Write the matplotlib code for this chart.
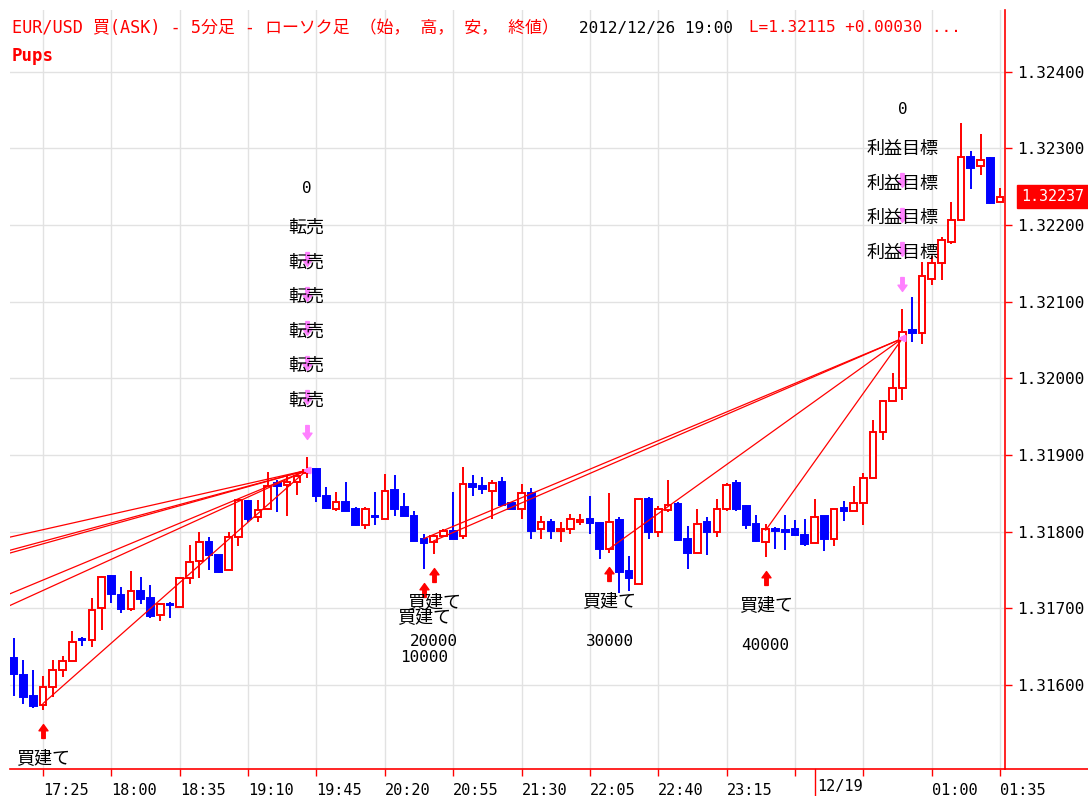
import matplotlib
matplotlib.use('Agg')
import matplotlib.pyplot as plt
import matplotlib.dates as mdates
import matplotlib.transforms as mtransforms
from matplotlib.patches import Rectangle
from matplotlib.lines import Line2D
from matplotlib.path import Path
import pandas as pd

plt.rcParams['font.family'] = ['DejaVu Sans Mono', 'Noto Sans CJK JP']
plt.rcParams['font.size'] = 11.5

RED = '#ff0000'
BLUE = '#0000ff'
PINK = '#ff80ff'
GRID = '#e2e2e2'

# --- データ (EUR/USD 5分足, 2012/12/18 17:10 から) ---
START = '2012-12-18 17:10'
opens = [1.31635, 1.31613, 1.31586, 1.31574, 1.31598, 1.31620, 1.31632, 1.31660, 1.31659, 1.31700,
         1.31742, 1.31717, 1.31699, 1.31723, 1.31713, 1.31691, 1.31706, 1.31702, 1.31740, 1.31762,
         1.31787, 1.31770, 1.31750, 1.31793, 1.31840, 1.31819, 1.31830, 1.31863, 1.31861, 1.31865,
         1.31876, 1.31882, 1.31847, 1.31830, 1.31839, 1.31830, 1.31809, 1.31821, 1.31817, 1.31855,
         1.31832, 1.31821, 1.31791, 1.31786, 1.31795, 1.31801, 1.31794, 1.31862, 1.31859, 1.31853,
         1.31865, 1.31837, 1.31830, 1.31851, 1.31803, 1.31813, 1.31801, 1.31803, 1.31813, 1.31816,
         1.31811, 1.31778, 1.31815, 1.31749, 1.31732, 1.31842, 1.31800, 1.31828, 1.31836, 1.31790,
         1.31772, 1.31813, 1.31800, 1.31829, 1.31864, 1.31833, 1.31810, 1.31787, 1.31804, 1.31802,
         1.31803, 1.31796, 1.31785, 1.31820, 1.31791, 1.31831, 1.31827, 1.31838, 1.31870, 1.31930,
         1.31971, 1.31988, 1.32063, 1.32059, 1.32130, 1.32150, 1.32178, 1.32207, 1.32289, 1.32277,
         1.32287, 1.32230]
highs = [1.31662, 1.31633, 1.31620, 1.31612, 1.31633, 1.31638, 1.31671, 1.31663, 1.31713, 1.31742,
         1.31743, 1.31728, 1.31749, 1.31741, 1.31730, 1.31707, 1.31708, 1.31741, 1.31783, 1.31800,
         1.31793, 1.31770, 1.31800, 1.31842, 1.31841, 1.31841, 1.31878, 1.31867, 1.31872, 1.31878,
         1.31898, 1.31882, 1.31858, 1.31852, 1.31865, 1.31832, 1.31832, 1.31852, 1.31875, 1.31874,
         1.31851, 1.31827, 1.31797, 1.31796, 1.31803, 1.31852, 1.31884, 1.31874, 1.31871, 1.31867,
         1.31871, 1.31838, 1.31862, 1.31857, 1.31821, 1.31817, 1.31812, 1.31823, 1.31823, 1.31846,
         1.31811, 1.31851, 1.31819, 1.31768, 1.31843, 1.31845, 1.31833, 1.31867, 1.31839, 1.31807,
         1.31829, 1.31819, 1.31842, 1.31864, 1.31867, 1.31835, 1.31822, 1.31810, 1.31806, 1.31822,
         1.31815, 1.31817, 1.31842, 1.31820, 1.31830, 1.31840, 1.31860, 1.31876, 1.31946, 1.31972,
         1.32007, 1.32091, 1.32106, 1.32152, 1.32160, 1.32184, 1.32230, 1.32333, 1.32296, 1.32319,
         1.32288, 1.32248]
lows = [1.31586, 1.31576, 1.31570, 1.31568, 1.31585, 1.31611, 1.31631, 1.31651, 1.31650, 1.31672,
        1.31707, 1.31694, 1.31697, 1.31706, 1.31688, 1.31684, 1.31687, 1.31701, 1.31732, 1.31740,
        1.31750, 1.31746, 1.31750, 1.31781, 1.31813, 1.31813, 1.31828, 1.31826, 1.31820, 1.31848,
        1.31870, 1.31839, 1.31829, 1.31827, 1.31827, 1.31808, 1.31803, 1.31809, 1.31816, 1.31820,
        1.31820, 1.31788, 1.31751, 1.31771, 1.31794, 1.31790, 1.31791, 1.31847, 1.31849, 1.31817,
        1.31834, 1.31829, 1.31817, 1.31790, 1.31790, 1.31790, 1.31786, 1.31797, 1.31809, 1.31797,
        1.31765, 1.31772, 1.31720, 1.31723, 1.31732, 1.31790, 1.31793, 1.31826, 1.31788, 1.31752,
        1.31772, 1.31770, 1.31793, 1.31827, 1.31827, 1.31804, 1.31787, 1.31767, 1.31777, 1.31776,
        1.31794, 1.31781, 1.31785, 1.31775, 1.31781, 1.31814, 1.31827, 1.31809, 1.31870, 1.31920,
        1.31970, 1.31972, 1.32047, 1.32045, 1.32122, 1.32128, 1.32175, 1.32207, 1.32247, 1.32265,
        1.32227, 1.32230]
closes = [1.31614, 1.31585, 1.31573, 1.31598, 1.31620, 1.31632, 1.31656, 1.31659, 1.31698, 1.31741,
          1.31719, 1.31699, 1.31723, 1.31712, 1.31690, 1.31706, 1.31704, 1.31740, 1.31761, 1.31786,
          1.31770, 1.31747, 1.31793, 1.31841, 1.31817, 1.31828, 1.31859, 1.31860, 1.31865, 1.31872,
          1.31880, 1.31847, 1.31831, 1.31839, 1.31827, 1.31809, 1.31829, 1.31819, 1.31853, 1.31830,
          1.31821, 1.31788, 1.31785, 1.31794, 1.31801, 1.31791, 1.31862, 1.31858, 1.31856, 1.31864,
          1.31835, 1.31830, 1.31851, 1.31801, 1.31813, 1.31801, 1.31803, 1.31817, 1.31815, 1.31811,
          1.31778, 1.31812, 1.31748, 1.31740, 1.31842, 1.31799, 1.31830, 1.31835, 1.31789, 1.31772,
          1.31810, 1.31799, 1.31829, 1.31861, 1.31830, 1.31809, 1.31788, 1.31803, 1.31801, 1.31800,
          1.31796, 1.31784, 1.31819, 1.31790, 1.31830, 1.31827, 1.31838, 1.31870, 1.31930, 1.31971,
          1.31988, 1.32061, 1.32059, 1.32133, 1.32150, 1.32180, 1.32207, 1.32289, 1.32274, 1.32285,
          1.32228, 1.32237]

# 取引 (建玉 -> 決済)
entry_times = ['2012-12-18 14:05', '2012-12-18 14:25', '2012-12-18 14:30', '2012-12-18 15:45',
               '2012-12-18 15:55', '2012-12-18 17:25', '2012-12-18 20:40', '2012-12-18 20:45',
               '2012-12-18 22:15', '2012-12-18 23:35']
entry_prices = [1.31688, 1.31664, 1.31660, 1.31631, 1.31619, 1.31576, 1.31791, 1.31788, 1.31778, 1.31802]
entry_qty = ['', '', '', '', '', '', '10000', '20000', '30000', '40000']
exit_times = ['2012-12-18 19:40'] * 6 + ['2012-12-19 00:45'] * 4
exit_prices = [1.31880] * 6 + [1.32052] * 4
exit_labels = ['転売'] * 6 + ['利益目標'] * 4

last_price = 1.32237
y_ticks = [1.316, 1.317, 1.318, 1.319, 1.320, 1.321, 1.322, 1.323, 1.324]

times = pd.date_range(START, periods=len(opens), freq='5min')
xs = mdates.date2num(times)
step = 5 / 1440.0
bar_pos = {t: i for i, t in enumerate(times)}

W, H = 1088, 796
fig = plt.figure(figsize=(W / 100, H / 100), dpi=100)
ax = fig.add_axes([10 / W, 27 / H, 995 / W, 759 / H])

# --- ローソク足 ---
bw = 0.68 * step
for x, o, h, l, c in zip(xs, opens, highs, lows, closes):
    up = c >= o
    col = RED if up else BLUE
    ax.vlines(x, l, h, color=col, lw=1.4, zorder=3)
    lo, hi = min(o, c), max(o, c)
    ax.add_patch(Rectangle((x - bw / 2, lo), bw, hi - lo, fc='white' if up else BLUE,
                           ec=col, lw=1.4, zorder=4))

# --- 取引ライン ---
ex_x = mdates.date2num(pd.to_datetime(entry_times))
xx_x = mdates.date2num(pd.to_datetime(exit_times))
for x0, p0, x1, p1 in zip(ex_x, entry_prices, xx_x, exit_prices):
    ax.plot([x0, x1], [p0, p1], color=RED, lw=0.9, zorder=5)
ax.plot(xx_x, exit_prices, ls='none', marker='<', ms=4, color=PINK, zorder=6)

# 矢印マーカー
arrow_up = Path([(-0.65, 0.1), (0, 1), (0.65, 0.1), (0.25, 0.1), (0.25, -1),
                 (-0.25, -1), (-0.25, 0.1), (-0.65, 0.1)], closed=True)
arrow_dn = Path([(vx, -vy) for vx, vy in arrow_up.vertices], closed=True)


def off(dy):
    return mtransforms.offset_copy(ax.transData, fig=fig, x=0, y=dy, units='dots')


# 買建て
for t, q in zip(pd.to_datetime(entry_times), entry_qty):
    if t not in bar_pos:
        continue
    i = bar_pos[t]
    x, low = xs[i], lows[i]
    ax.plot(x, low, marker=arrow_up, ms=10, color=RED, ls='none', transform=off(-21), zorder=7)
    ax.text(x, low, '買建て', ha='center', va='center', fontsize=13, transform=off(-48), zorder=8)
    if q:
        ax.text(x, low, q, ha='center', va='center', fontsize=11.5, transform=off(-88), zorder=8)

# 決済 (転売 / 利益目標)
groups = {}
for t, lab in zip(pd.to_datetime(exit_times), exit_labels):
    groups.setdefault(t, []).append(lab)
for t, labs in groups.items():
    i = bar_pos[t]
    x, high = xs[i], highs[i]
    for k, lab in enumerate(labs):
        dy = 25 + 34.5 * k
        ax.plot(x, high, marker=arrow_dn, ms=10, color=PINK, ls='none', transform=off(dy), zorder=7)
        ax.text(x, high, lab, ha='center', va='center', fontsize=13, transform=off(dy + 31), zorder=8)
    ax.text(x, high, '0', ha='center', va='center', fontsize=11.5,
            transform=off(25 + 34.5 * (len(labs) - 1) + 71), zorder=8)

# --- 軸 ---
ax.set_xlim(xs[0] - 0.38 * step, xs[-1] + 0.5 * step)
ax.set_ylim(1.314906, 1.324802)

tick_times = pd.date_range('2012-12-18 17:25', '2012-12-19 01:35', freq='35min')
tick_labels = [t.strftime('%H:%M') for t in tick_times]
tick_labels = ['' if s in ('23:50', '00:25') else s for s in tick_labels]
ax.set_xticks(mdates.date2num(tick_times))
ax.set_xticklabels(tick_labels, ha='left')
ax.tick_params(axis='x', color=RED, length=5, width=1, labelcolor='black', pad=5, labelsize=11)

midnight = mdates.date2num(pd.Timestamp('2012-12-19 00:00'))
ax.plot([midnight, midnight], [0, -0.05], color=RED, lw=1,
        transform=ax.get_xaxis_transform(), clip_on=False)
ax.text(midnight, 0, '12/19', ha='left', va='top', fontsize=11,
        transform=mtransforms.offset_copy(ax.get_xaxis_transform(), fig=fig, x=3, y=-10, units='dots'))

ax.yaxis.tick_right()
ax.set_yticks(y_ticks)
ax.set_yticklabels([f'{v:.5f}' for v in y_ticks])
ax.tick_params(axis='y', color=RED, length=5, width=1, labelcolor='black', pad=4, labelsize=11.5)

ax.grid(True, color=GRID, lw=1)
ax.set_axisbelow(True)
for s in ('top', 'left'):
    ax.spines[s].set_visible(False)
for s in ('right', 'bottom'):
    ax.spines[s].set_color(RED)
    ax.spines[s].set_linewidth(1.2)
fig.add_artist(Line2D([1005 / W, 1], [27 / H, 27 / H], color=RED, lw=1.2))

# 現在値
ax.annotate(f'{last_price:.5f}', xy=(1, last_price), xycoords=('axes fraction', 'data'),
            xytext=(16, 0), textcoords='offset pixels', ha='left', va='center',
            color='white', fontsize=10.8, annotation_clip=False,
            bbox=dict(boxstyle='square,pad=0.25', fc=RED, ec=RED))

# --- タイトル ---
fig.text(12 / W, 1 - 28 / H, 'EUR/USD 買(ASK) - 5分足 - ローソク足 （始， 高， 安， 終値）',
         color=RED, va='center', ha='left', fontsize=12.2)
fig.text(579 / W, 1 - 28 / H, '2012/12/26 19:00', color='black', va='center', ha='left', fontsize=11.5)
fig.text(749 / W, 1 - 28 / H, 'L=1.32115 +0.00030 ...', color=RED, va='center', ha='left', fontsize=11.5)
fig.text(12 / W, 1 - 56 / H, 'Pups', color=RED, va='center', ha='left', fontsize=12.5, fontweight='bold')

fig.savefig('out.png', dpi=100)
